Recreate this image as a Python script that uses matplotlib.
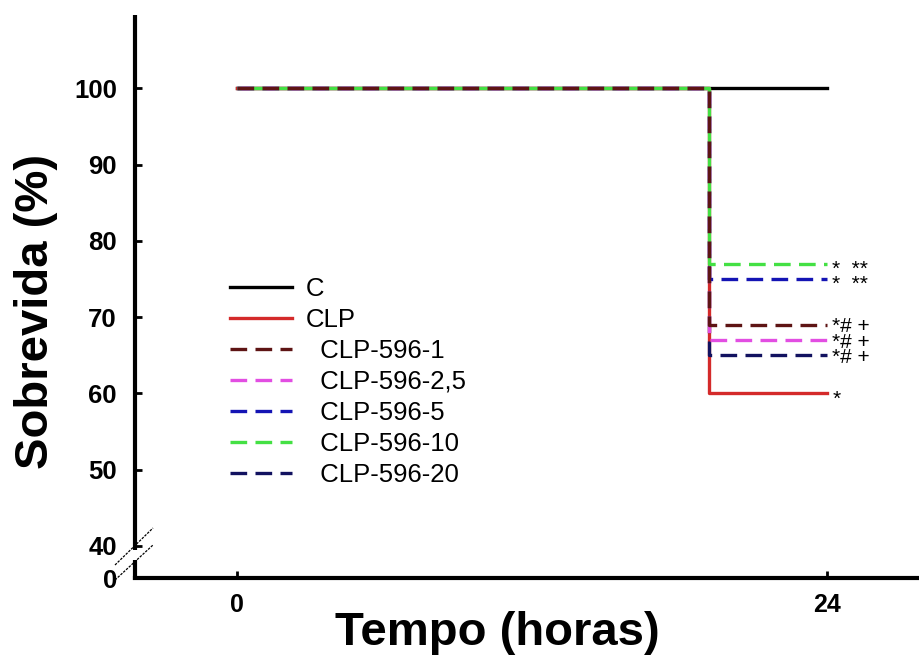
import matplotlib.pyplot as plt
from matplotlib.lines import Line2D

plt.rcParams['font.family'] = ['Liberation Sans', 'DejaVu Sans']

# Kaplan-Meier style survival, hours after surgery
tempo = [0, 19.2, 24]
grupos = ['C', 'CLP', 'CLP-596-1', 'CLP-596-2,5', 'CLP-596-5', 'CLP-596-10', 'CLP-596-20']
sobrevida = {
    'C':           [100, 100, 100],
    'CLP':         [100, 60, 60],
    'CLP-596-1':   [100, 69, 69],
    'CLP-596-2,5': [100, 67, 67],
    'CLP-596-5':   [100, 75, 75],
    'CLP-596-10':  [100, 77, 77],
    'CLP-596-20':  [100, 65, 65],
}
signif = {
    'CLP':         '*',
    'CLP-596-1':   '*# +',
    'CLP-596-2,5': '*# +',
    'CLP-596-5':   '*  **',
    'CLP-596-10':  '*  **',
    'CLP-596-20':  '*# +',
}

cores = {
    'C': 'black',
    'CLP': '#d42a2a',
    'CLP-596-1': '#5e1414',
    'CLP-596-2,5': '#e24ee2',
    'CLP-596-5': '#1414b4',
    'CLP-596-10': '#44e044',
    'CLP-596-20': '#121260',
}
camada = {'C': 2, 'CLP': 3, 'CLP-596-1': 9, 'CLP-596-2,5': 5,
          'CLP-596-5': 6, 'CLP-596-10': 8, 'CLP-596-20': 4}

tracejado = (5, 2.5)
y_base = 35.8  # where the broken axis starts ("0")

fig = plt.figure(figsize=(9.19, 6.55), dpi=100)
ax = fig.add_axes([135 / 919, 77 / 655, 784 / 919, 563 / 655])

handles = []
labels = []
for g in grupos:
    solida = g in ('C', 'CLP')
    ln, = ax.step(tempo, sobrevida[g], where='post', color=cores[g], lw=2.4,
                  zorder=camada[g])
    if solida:
        handles.append(Line2D([], [], color=cores[g], lw=2.4))
        labels.append(g)
    else:
        # green dashes are shifted so they fill the gaps where lines overlap
        offset = 3.75 if g == 'CLP-596-10' else 0
        ln.set_linestyle((offset, tracejado))
        handles.append(Line2D([], [], color=cores[g], lw=2.4, ls=(0, tracejado)))
        labels.append('  ' + g)
    if g in signif:
        dy = -5.5 if '#' in signif[g] else -8
        ax.annotate(signif[g], (tempo[-1], sobrevida[g][-1]), xytext=(4, dy),
                    textcoords='offset points', fontsize=15, ha='left',
                    va='baseline')

ax.set_xlim(-4.15, 27.75)
ax.set_ylim(y_base, 109.6)
ax.set_xticks([0, 24])
ax.set_xticklabels(['0', '24'], fontsize=18, fontweight='bold')
ax.set_yticks([y_base, 40, 50, 60, 70, 80, 90, 100])
ax.set_yticklabels(['0', '40', '50', '60', '70', '80', '90', '100'],
                   fontsize=18.5, fontweight='bold')
ax.tick_params(axis='both', direction='in', length=5, width=2)
ax.tick_params(axis='x', pad=11)
ax.tick_params(axis='y', pad=13)

for s in ('top', 'right', 'left'):
    ax.spines[s].set_visible(False)
ax.spines['bottom'].set_linewidth(3)

# left spine with a gap for the axis break
g_top = 28 / 563
g_bot = 18 / 563
ax.plot([0, 0], [g_top, 1], transform=ax.transAxes, color='black', lw=3,
        clip_on=False, solid_capstyle='butt')
ax.plot([0, 0], [-0.003, g_bot], transform=ax.transAxes, color='black', lw=3,
        clip_on=False, solid_capstyle='butt')
for y0, y1 in [((578 - 565) / 563, (578 - 528) / 563),
               ((578 - 580) / 563, (578 - 545) / 563)]:
    ax.plot([(115 - 135) / 784, (153 - 135) / 784], [y0, y1],
            transform=ax.transAxes, color='black', lw=0.9, ls=(0, (2, 1)),
            clip_on=False)

ax.set_xlabel('Tempo (horas)', fontsize=34, fontweight='bold')
ax.xaxis.set_label_coords((497 - 135) / 784, (578 - 611) / 563)
ax.set_ylabel('Sobrevida (%)', fontsize=34, fontweight='bold')
ax.yaxis.set_label_coords((58 - 135) / 784, (578 - 311) / 563)

ax.legend(handles, labels, loc='upper left',
          bbox_to_anchor=(95 / 784, (578 - 277) / 563),
          frameon=False, fontsize=18.5, handlelength=2.4, handletextpad=0.55,
          labelspacing=0.27, borderpad=0, borderaxespad=0)

fig.savefig('out.png', dpi=100)
